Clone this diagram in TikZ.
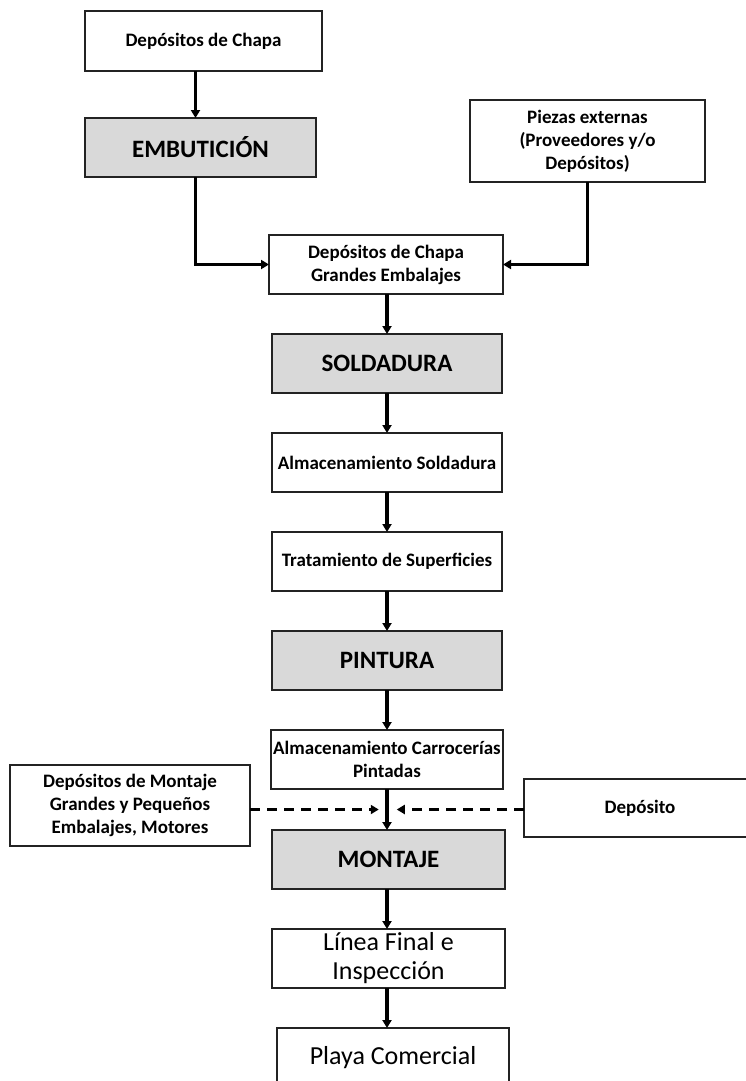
\documentclass[tikz,border=0pt]{standalone}
\usepackage{fontspec}
\setmainfont{Carlito}
\usepackage{tikz}
\usetikzlibrary{positioning}
\usetikzlibrary{arrows.meta}
\usetikzlibrary{calc}
\definecolor{procgray}{RGB}{217,217,217}
\definecolor{boxline}{RGB}{35,35,35}

\begin{document}
\begin{tikzpicture}[x=1pt,y=1pt,node distance=40pt,
	every node/.style={inner sep=2pt,outer sep=0pt,align=center},
	box/.style={draw=boxline,line width=2pt,minimum width=230pt,minimum height=59pt,font=\fontsize{19}{23}\selectfont\bfseries},
	proc/.style={box,fill=procgray,font=\fontsize{25}{30}\selectfont\bfseries},
	bigbox/.style={box,font=\fontsize{26}{29}\selectfont},
	flow/.style={-{Triangle[length=8pt,width=9pt]},line width=3.2pt},
	dflow/.style={flow,dash pattern=on 10pt off 7pt}]
	\useasboundingbox (0,0) rectangle (745,-1081);
	% upper part
	\node[box,minimum width=237pt,minimum height=60pt] (chapa) at (203.5,-41) {Depósitos de Chapa};
	\node[proc,minimum width=231pt] (embut) [below=47pt of chapa,xshift=-3pt] {EMBUTICIÓN};
	\node[box,minimum width=235pt,minimum height=82pt] (piezas) at (587.5,-141) {Piezas externas\\(Proveedores y/o\\Depósitos)};
	\node[box,minimum width=234pt] (depgr) at (386,-264.5) {Depósitos de Chapa\\Grandes Embalajes};
	% main line
	\node[proc] (sold) [below=of depgr,xshift=1pt] {SOLDADURA};
	\node[box] (almsold) [below=of sold] {Almacenamiento Soldadura};
	\node[box] (trat) [below=of almsold] {Tratamiento de Superficies};
	\node[proc] (pint) [below=of trat] {PINTURA};
	\node[box] (almcar) [below=of pint] {Almacenamiento Carrocerías\\Pintadas};
	\node[proc,minimum width=233pt] (mont) [below=41pt of almcar,xshift=1.5pt] {MONTAJE};
	\node[bigbox,minimum width=233pt] (linea) [below=of mont] {Línea Final e\\Inspección};
	\node[bigbox,minimum width=232pt] (playa) [below=of linea,xshift=4.5pt] {Playa Comercial};
	% side stores
	\node[box,minimum width=240pt,minimum height=81pt] (depmont) at (130,-805.5) {Depósitos de Montaje\\Grandes y Pequeños\\Embalajes, Motores};
	\node[box,minimum width=232pt,minimum height=58pt] (depo) at (640,-808) {Depósito};
	\coordinate (embout) at ([xshift=-5pt]embut.south);
	\coordinate (mid) at ($(almcar.south)!.5!(mont.north)$);

	\draw[flow] ([xshift=-5pt]embut.north |- chapa.south) -- ([xshift=-5pt]embut.north);
	\draw[flow] (embout) |- (depgr.west);
	\draw[flow] (piezas.south) |- (depgr.east);
	\path[flow]
		(sold.north |- depgr.south) edge (sold)
		(sold) edge (almsold)
		(almsold) edge (trat)
		(trat) edge (pint)
		(pint) edge (almcar)
		(almcar) edge (mont.north -| almcar.south)
		(mont.south -| almcar.south) edge (linea.north -| almcar.south)
		(linea.south -| almcar.south) edge (playa.north -| almcar.south);
	\draw[dflow] (depmont.east |- mid) -- ([xshift=-9pt]mid);
	\draw[dflow] (depo.west |- mid) -- ([xshift=9pt]mid);
\end{tikzpicture}
\end{document}
